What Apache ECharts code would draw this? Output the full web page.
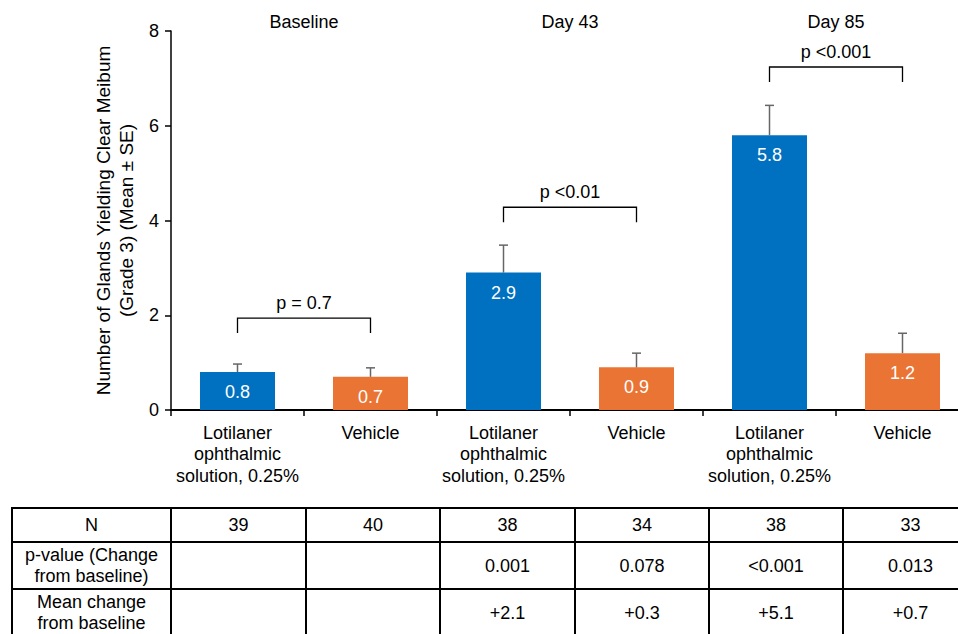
<!DOCTYPE html>
<html>
<head>
<meta charset="utf-8">
<style>
  html, body { margin: 0; padding: 0; background: #fff; }
  #chart { width: 958px; height: 634px; }
</style>
<script src="https://cdn.jsdelivr.net/npm/echarts@6/dist/echarts.min.js"></script>
</head>
<body>
<div id="chart"></div>
<script>
// Glands yielding clear meibum by visit and treatment arm
const categories = [
  'Lotilaner\nophthalmic\nsolution, 0.25%', 'Vehicle',
  'Lotilaner\nophthalmic\nsolution, 0.25%', 'Vehicle',
  'Lotilaner\nophthalmic\nsolution, 0.25%', 'Vehicle'
];
const visitTitles = ['Baseline', 'Day 43', 'Day 85'];
const meanValues = [0.8, 0.7, 2.9, 0.9, 5.8, 1.2];
const seValues = [0.17, 0.19, 0.58, 0.30, 0.63, 0.42];
const comparisonLabels = ['p = 0.7', 'p <0.01', 'p <0.001'];
const bracketLevels = [1.94, 4.28, 7.24];
const yTicks = [0, 2, 4, 6, 8];

// Summary table under the chart
const rowHeaders = ['N', 'p-value (Change\nfrom baseline)', 'Mean change\nfrom baseline'];
const nValues = ['39', '40', '38', '34', '38', '33'];
const pChangeValues = ['', '', '0.001', '0.078', '<0.001', '0.013'];
const meanChangeValues = ['', '', '+2.1', '+0.3', '+5.1', '+0.7'];

const FONT = '"Liberation Sans", Arial, sans-serif';
const BLUE = '#0070C0';
const ORANGE = '#EA7434';

const chart = echarts.init(document.getElementById('chart'), null, { renderer: 'svg' });

// Table layout
const tableLeft = 12;
const colEdges = [12, 171, 306, 440, 575, 709, 843, 978];
const rowEdges = [508, 542, 589, 636];
const tableRows = [nValues, pChangeValues, meanChangeValues];

function buildTable() {
  const els = [];
  const lineStyle = { stroke: '#000', lineWidth: 2 };
  rowEdges.forEach(function (y) {
    els.push({ type: 'line', shape: { x1: tableLeft - 1, y1: y, x2: 980, y2: y }, style: lineStyle });
  });
  colEdges.forEach(function (x) {
    els.push({ type: 'line', shape: { x1: x, y1: rowEdges[0] - 1, x2: x, y2: 640 }, style: lineStyle });
  });
  rowHeaders.forEach(function (h, r) {
    const cy = (rowEdges[r] + rowEdges[r + 1]) / 2;
    els.push({
      type: 'text',
      x: (colEdges[0] + colEdges[1]) / 2, y: cy,
      style: { text: h, font: '18px ' + FONT, fill: '#000', align: 'center', verticalAlign: 'middle', lineHeight: 21 }
    });
    tableRows[r].forEach(function (v, c) {
      if (!v) return;
      els.push({
        type: 'text',
        x: (colEdges[c + 1] + colEdges[c + 2]) / 2, y: cy,
        style: { text: v, font: '18px ' + FONT, fill: '#000', align: 'center', verticalAlign: 'middle' }
      });
    });
  });
  return els;
}

const option = {
  animation: false,
  backgroundColor: '#fff',
  textStyle: { fontFamily: FONT },
  grid: { left: 171, top: 31, right: -11, bottom: 224, outerBoundsMode: 'none', containLabel: false },
  xAxis: {
    type: 'category',
    data: categories,
    axisLine: { lineStyle: { color: '#000', width: 2 } },
    axisTick: { show: true, length: 6, lineStyle: { color: '#000', width: 1.5 } },
    axisLabel: { color: '#000', fontSize: 18, fontFamily: FONT, lineHeight: 21.5, margin: 12, interval: 0 }
  },
  yAxis: {
    type: 'value',
    min: yTicks[0], max: yTicks[yTicks.length - 1], interval: 2,
    name: 'Number of Glands Yielding Clear Meibum\n(Grade 3) (Mean ± SE)',
    nameLocation: 'middle',
    nameGap: 28,
    nameTextStyle: { color: '#000', fontSize: 19, fontFamily: FONT, lineHeight: 23 },
    axisLine: { show: true, lineStyle: { color: '#000', width: 1.5 } },
    axisTick: { show: true, length: 6, lineStyle: { color: '#000', width: 1.5 } },
    axisLabel: { color: '#000', fontSize: 18, fontFamily: FONT, margin: 12 },
    splitLine: { show: false }
  },
  series: [
    {
      name: 'Mean',
      type: 'bar',
      barWidth: 75,
      data: meanValues.map(function (v, i) {
        return { value: v, itemStyle: { color: i % 2 === 0 ? BLUE : ORANGE } };
      }),
      label: {
        show: true, position: 'insideTop', distance: 11,
        color: '#fff', fontSize: 18, fontFamily: FONT,
        formatter: function (p) { return p.value.toFixed(1); }
      }
    },
    {
      name: 'SE',
      type: 'custom',
      data: meanValues.map(function (v, i) { return [i, v, v + seValues[i]]; }),
      renderItem: function (params, api) {
        const base = api.coord([api.value(0), api.value(1)]);
        const top = api.coord([api.value(0), api.value(2)]);
        const style = { stroke: '#666', lineWidth: 1.5, fill: null };
        return {
          type: 'group',
          children: [
            { type: 'line', shape: { x1: base[0], y1: base[1], x2: top[0], y2: top[1] }, style: style },
            { type: 'line', shape: { x1: top[0] - 4.5, y1: top[1], x2: top[0] + 4.5, y2: top[1] }, style: style }
          ]
        };
      },
      z: 3
    },
    {
      name: 'Comparison',
      type: 'custom',
      data: bracketLevels.map(function (lv, g) { return [g, lv]; }),
      renderItem: function (params, api) {
        const g = api.value(0);
        const a = api.coord([2 * g, api.value(1)]);
        const b = api.coord([2 * g + 1, api.value(1)]);
        const y = a[1];
        return {
          type: 'group',
          children: [
            {
              type: 'polyline',
              shape: { points: [[a[0], y + 15], [a[0], y], [b[0], y], [b[0], y + 15]] },
              style: { stroke: '#000', lineWidth: 1.3, fill: null }
            },
            {
              type: 'text',
              x: (a[0] + b[0]) / 2, y: y - 15,
              style: { text: comparisonLabels[g], font: '18px ' + FONT, fill: '#000', align: 'center', verticalAlign: 'middle' }
            }
          ]
        };
      }
    },
    {
      name: 'Visit',
      type: 'custom',
      data: visitTitles.map(function (t, g) { return [g]; }),
      renderItem: function (params, api) {
        const g = api.value(0);
        const a = api.coord([2 * g, yTicks[yTicks.length - 1]]);
        const b = api.coord([2 * g + 1, yTicks[yTicks.length - 1]]);
        return {
          type: 'text',
          x: (a[0] + b[0]) / 2, y: a[1] - 9,
          style: { text: visitTitles[g], font: '18px ' + FONT, fill: '#000', align: 'center', verticalAlign: 'middle' }
        };
      }
    }
  ],
  graphic: buildTable()
};

chart.setOption(option);
</script>
</body>
</html>
